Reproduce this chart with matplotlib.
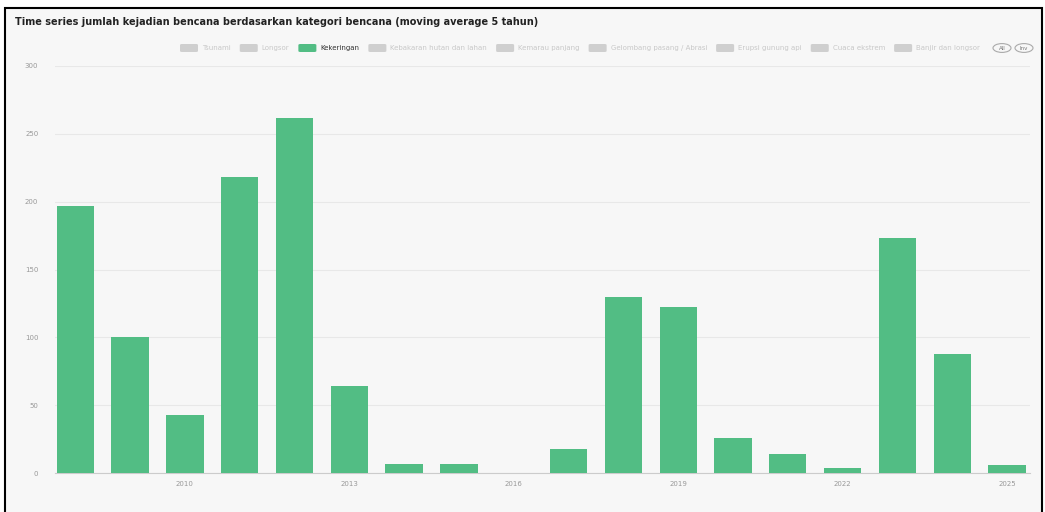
import matplotlib.pyplot as plt
from matplotlib.patches import FancyBboxPatch, Rectangle, Circle

years = list(range(2008, 2026))
kekeringan = [197, 100, 43, 218, 262, 64, 7, 7, 0, 18, 130, 122, 26, 14, 4, 173, 88, 6]

legend_labels = ["Tsunami", "Longsor", "Kekeringan", "Kebakaran hutan dan lahan",
                 "Kemarau panjang", "Gelombang pasang / Abrasi", "Erupsi gunung api",
                 "Cuaca ekstrem", "Banjir dan longsor"]
active_label = "Kekeringan"
xticks = [2010, 2013, 2016, 2019, 2022, 2025]
yticks = [0, 50, 100, 150, 200, 250, 300]

green = "#52bd84"
bg = "#f7f7f7"

fig = plt.figure(figsize=(10.45, 5.12), dpi=100)
fig.patch.set_facecolor("white")

# framed panel (bottom edge runs off the image)
fig.patches.append(Rectangle((5 / 1045, -0.02), 1037 / 1045, 1 - 8 / 512 + 0.02,
                             transform=fig.transFigure,
                             facecolor=bg, edgecolor="black", linewidth=1.5, zorder=-1))

ax = fig.add_axes([55 / 1045, (512 - 473) / 512, 975 / 1045, 407 / 512])
ax.set_facecolor(bg)
ax.bar(years, kekeringan, width=0.68, color=green, zorder=3)

ax.set_xlim(2007.63, 2025.42)
ax.set_ylim(0, 300)
ax.set_yticks(yticks)
ax.set_xticks(xticks)
ax.tick_params(axis="both", labelsize=5, colors="#999999", length=0)
ax.tick_params(axis="x", pad=6)
ax.tick_params(axis="y", pad=12)
ax.grid(axis="y", color="#e8e8e8", linewidth=0.8, zorder=0)
for side in ["top", "right", "left"]:
    ax.spines[side].set_visible(False)
ax.spines["bottom"].set_color("#cccccc")

fig.text(15 / 1045, 1 - 22 / 512,
         "Time series jumlah kejadian bencana berdasarkan kategori bencana (moving average 5 tahun)",
         fontsize=7, fontweight="semibold", color="#222222", va="center", ha="left")

# legend row, laid out left to right
fig.canvas.draw()
renderer = fig.canvas.get_renderer()
x = 180
y = 48
for lab in legend_labels:
    on = lab == active_label
    fig.patches.append(FancyBboxPatch((x / 1045, 1 - (y + 4) / 512), 18 / 1045, 8 / 512,
                                      boxstyle="round,pad=0,rounding_size=0.002",
                                      transform=fig.transFigure,
                                      facecolor=green if on else "#cfcfcf", edgecolor="none"))
    t = fig.text((x + 22) / 1045, 1 - y / 512, lab, fontsize=5, va="center", ha="left",
                 color="#333333" if on else "#c8c8c8")
    w = t.get_window_extent(renderer).width
    x += 22 + w + 9

x = max(x, 993)
for lab in ["All", "Inv"]:
    cx = x + 9
    fig.patches.append(Circle((cx / 1045, 1 - y / 512), 9 / 1045, transform=fig.transFigure,
                              facecolor="none", edgecolor="#aaaaaa", linewidth=0.8))
    fig.text(cx / 1045, 1 - y / 512, lab, fontsize=4, ha="center", va="center", color="#777777")
    x += 22

fig.savefig("out.png", dpi=100, facecolor=fig.get_facecolor())
